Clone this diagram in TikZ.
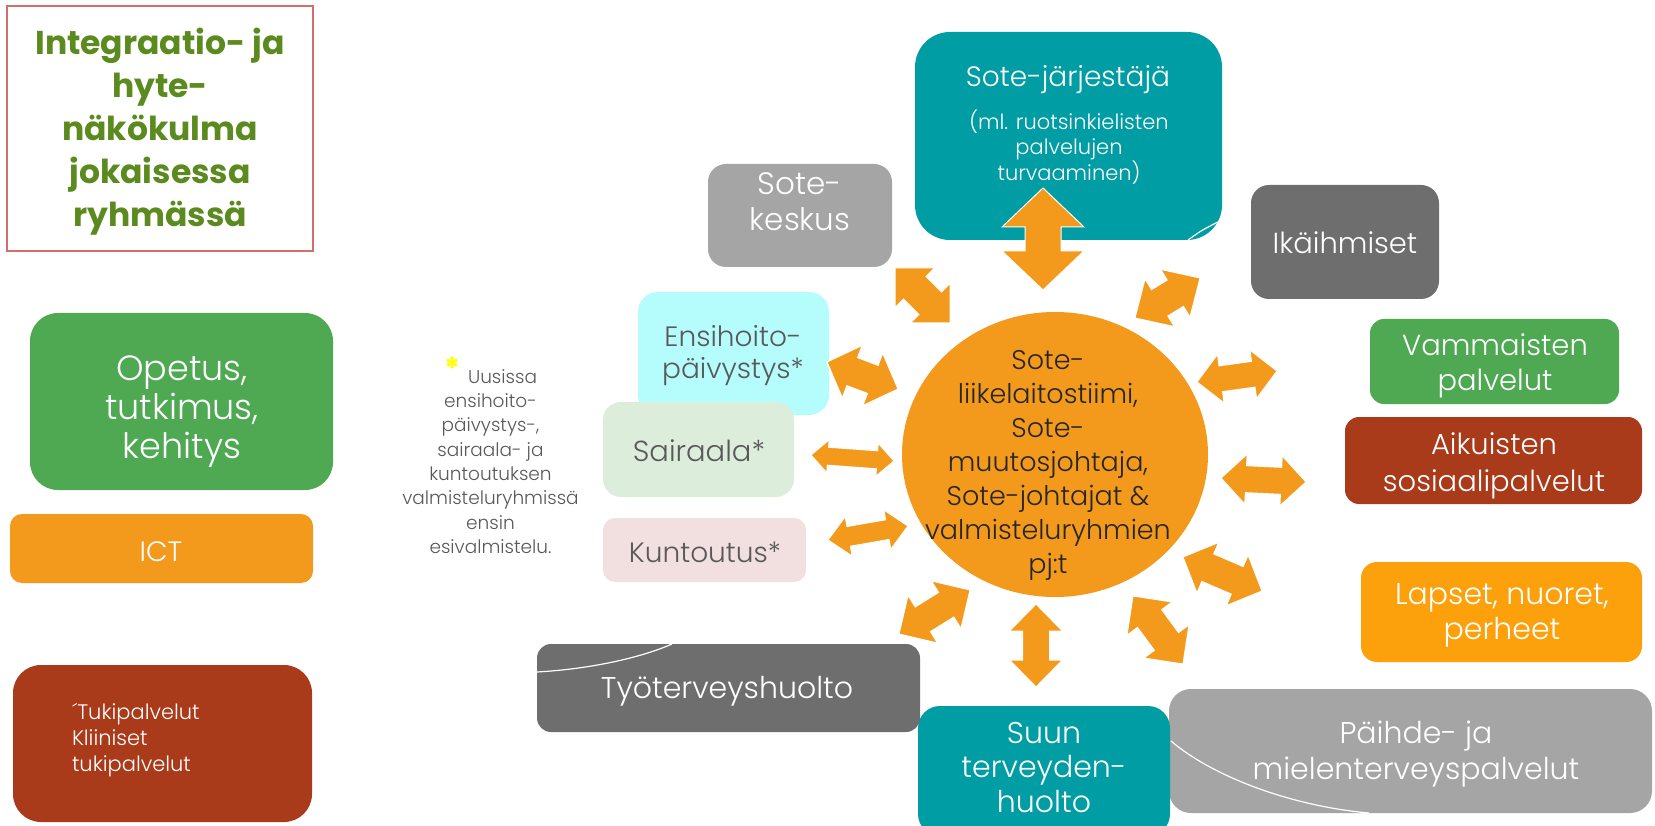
\documentclass[tikz,border=0pt]{standalone}
\usepackage{fontspec}
\setmainfont{Poppins Light}[BoldFont={Poppins Bold}]
\usetikzlibrary{calc,shapes.geometric}
\definecolor{titlegreen}{HTML}{5B8A1E}
\definecolor{titleborder}{HTML}{D36F6A}
\definecolor{boxgreen}{HTML}{4EA952}
\definecolor{orangeA}{HTML}{F39A1C}
\definecolor{orangeB}{HTML}{FCA00B}
\definecolor{rust}{HTML}{A93A1A}
\definecolor{tealbox}{HTML}{009DA4}
\definecolor{graydark}{HTML}{6E6E6E}
\definecolor{graylight}{HTML}{A5A5A5}
\definecolor{cyanlight}{HTML}{B5FCFD}
\definecolor{greenlight}{HTML}{DCEDDC}
\definecolor{pinklight}{HTML}{F2DFDF}
\definecolor{textgray}{HTML}{595959}
\definecolor{textdark}{HTML}{262626}
\definecolor{staryellow}{HTML}{FFFF00}
\tikzset{
  box/.style={inner sep=0pt, outer sep=0pt, draw=none},
  lbl/.style={inner sep=0pt, outer sep=0pt, align=center},
  blockarrow/.style={fill=orangeA, draw=white, line width=1pt, line join=miter},
  deco/.style={draw=white, line width=1.2pt},
}
% #1,#2 tips; #3 half head width; #4 head length; #5 half shaft width
\newcommand{\dblarrow}[5]{%
  \path[blockarrow] (#1) -- ($(#1)!#4!(#2)!#3!90:(#2)$) -- ($(#1)!#4!(#2)!#5!90:(#2)$)
   -- ($(#2)!#4!(#1)!#5!-90:(#1)$) -- ($(#2)!#4!(#1)!#3!-90:(#1)$) -- (#2)
   -- ($(#2)!#4!(#1)!#3!90:(#1)$) -- ($(#2)!#4!(#1)!#5!90:(#1)$)
   -- ($(#1)!#4!(#2)!#5!-90:(#2)$) -- ($(#1)!#4!(#2)!#3!-90:(#2)$) -- cycle;}
\begin{document}
\begin{tikzpicture}[x=1pt,y=-1pt]
\useasboundingbox (0,0) rectangle (1655,826);
\fill[white] (0,0) rectangle (1655,826);
% ---- boxes
\node[box, draw=titleborder, line width=2.5pt, fill=white, minimum width=306pt, minimum height=245pt] (titlebox) at (160,128.5) {};
\node[box, fill=boxgreen, minimum width=303pt, minimum height=177pt, rounded corners=28pt] (opetusbox) at (181.5,401.5) {};
\node[box, fill=orangeA, minimum width=303pt, minimum height=69pt, rounded corners=12pt] (ictbox) at (161.5,548.5) {};
\node[box, fill=rust, minimum width=299pt, minimum height=157pt, rounded corners=28pt] (tukibox) at (162.5,743.5) {};
\node[box, fill=graylight, minimum width=184pt, minimum height=103pt, rounded corners=18pt] (keskusbox) at (800,215.5) {};
\node[box, fill=cyanlight, minimum width=191pt, minimum height=123pt, rounded corners=20pt] (ensibox) at (733.5,353.5) {};
\node[box, fill=greenlight, minimum width=191pt, minimum height=95pt, rounded corners=18pt] (sairaalabox) at (698.5,449.5) {};
\node[box, fill=pinklight, minimum width=203pt, minimum height=64pt, rounded corners=12pt] (kuntobox) at (704.5,550) {};
\node[box, fill=tealbox, minimum width=307pt, minimum height=208pt, rounded corners=35pt] (jarjbox) at (1068.5,136) {};
\node[box, fill=graydark, minimum width=188pt, minimum height=114pt, rounded corners=18pt] (ikabox) at (1345,242) {};
\node[box, fill=boxgreen, minimum width=249pt, minimum height=85pt, rounded corners=14pt] (vammabox) at (1494.5,361.5) {};
\node[box, fill=rust, minimum width=297pt, minimum height=87pt, rounded corners=14pt] (aikubox) at (1493.5,460.5) {};
\node[box, fill=orangeB, minimum width=281pt, minimum height=100pt, rounded corners=16pt] (lapsetbox) at (1501.5,612) {};
\node[box, fill=graylight, minimum width=483pt, minimum height=124pt, rounded corners=22pt] (paihdebox) at (1410.5,751) {};
\node[box, fill=tealbox, minimum width=252pt, minimum height=130pt, rounded corners=22pt] (suunbox) at (1044,771) {};
\node[box, fill=graydark, minimum width=383pt, minimum height=88pt, rounded corners=14pt] (tyobox) at (728.5,688) {};
\node[box, ellipse, fill=orangeA, minimum width=306pt, minimum height=285pt] (hub) at (1055,454.5) {};
% decorative white curves
\draw[deco] (1188,240) .. controls (1202,230) .. (1222,220);
\draw[deco] (537,672) .. controls (590,669) and (640,658) .. (672,644);
\draw[deco] (1171,741) .. controls (1212,776) and (1290,806) .. (1369,813);
% ---- arrows
\coordinate (a1) at (1043,188); \coordinate (a2) at (1043,290);
\coordinate (b1) at (895,268);  \coordinate (b2) at (950,323);
\coordinate (c1) at (1200,278); \coordinate (c2) at (1135,318);
\coordinate (d1) at (827,362);  \coordinate (d2) at (898,389);
\coordinate (e1) at (811,455);  \coordinate (e2) at (894,461);
\coordinate (f1) at (828,540);  \coordinate (f2) at (908,526);
\coordinate (g1) at (1197,382); \coordinate (g2) at (1277,371);
\coordinate (h1) at (1221,478); \coordinate (h2) at (1306,482);
\coordinate (i1) at (1183,557); \coordinate (i2) at (1262,591);
\coordinate (j1) at (899,634);  \coordinate (j2) at (970,590);
\coordinate (k1) at (1036,604); \coordinate (k2) at (1036,687);
\coordinate (l1) at (1133,596); \coordinate (l2) at (1183,664);
\dblarrow{a1}{a2}{41pt}{39pt}{18pt}
\dblarrow{b1}{b2}{28pt}{28pt}{16pt}
\dblarrow{c1}{c2}{28pt}{29pt}{15.5pt}
\dblarrow{d1}{d2}{28pt}{27pt}{15pt}
\dblarrow{e1}{e2}{16.5pt}{17pt}{9pt}
\dblarrow{f1}{f2}{20pt}{21pt}{10pt}
\dblarrow{g1}{g2}{24.5pt}{24pt}{13pt}
\dblarrow{h1}{h2}{25pt}{25pt}{13.5pt}
\dblarrow{i1}{i2}{27.5pt}{27pt}{15pt}
\dblarrow{j1}{j2}{28pt}{28pt}{14.5pt}
\dblarrow{k1}{k2}{26.5pt}{27pt}{13.5pt}
\dblarrow{l1}{l2}{28pt}{28pt}{15pt}
% ---- texts
\node[lbl, text=titlegreen, font=\bfseries\fontsize{33}{43}\selectfont] (title) at (160,132) {Integraatio- ja\\hyte-\\näkökulma\\jokaisessa\\ryhmässä};
\node[lbl, text=white, font=\fontsize{35}{39}\selectfont] (opetus) at (182,411.5) {Opetus,\\tutkimus,\\kehitys};
\node[lbl, text=white, font=\fontsize{28}{34}\selectfont] (ict) at (161,552) {ICT};
\node[lbl, align=left, anchor=west, text=white, font=\fontsize{21}{26}\selectfont] (tuki) at (72,740) {´Tukipalvelut\\Kliiniset\\tukipalvelut};
\node[lbl, text=textgray, font=\fontsize{18.5}{24.3}\selectfont] (note) at (490.5,461.4) {\smash{\raisebox{4pt}{\textcolor{staryellow}{\fontsize{30}{30}\selectfont\bfseries *}}}\hspace{8pt}Uusissa\\ensihoito-\\päivystys-,\\sairaala- ja\\kuntoutuksen\\valmisteluryhmissä\\ensin\\esivalmistelu.};
\node[lbl, text=white, font=\fontsize{31}{36}\selectfont] (keskus) at (800,201.5) {Sote-\\keskus};
\node[lbl, text=textgray, font=\fontsize{28}{32}\selectfont] (ensi) at (733,356) {Ensihoito-\\päivystys*};
\node[lbl, text=textgray, font=\fontsize{29}{34}\selectfont] (sairaala) at (699,450.5) {Sairaala*};
\node[lbl, text=textgray, font=\fontsize{28}{34}\selectfont] (kunto) at (705,552) {Kuntoutus*};
\node[lbl, text=white, font=\fontsize{28}{34}\selectfont] (jarj) at (1068,79.5) {Sote-järjestäjä};
\node[lbl, text=white, font=\fontsize{21}{25}\selectfont] (jarjsub) at (1069,147) {(ml. ruotsinkielisten\\palvelujen\\turvaaminen)};
\node[lbl, text=white, font=\fontsize{29}{34}\selectfont] (ika) at (1345,242.5) {Ikäihmiset};
\node[lbl, text=white, font=\fontsize{29}{35}\selectfont] (vamma) at (1495,365.5) {Vammaisten\\palvelut};
\node[lbl, text=white, font=\fontsize{29}{37}\selectfont] (aiku) at (1494,465.5) {Aikuisten\\sosiaalipalvelut};
\node[lbl, text=white, font=\fontsize{30}{35}\selectfont] (lapset) at (1502,615) {Lapset, nuoret,\\perheet};
\node[lbl, text=white, font=\fontsize{30}{36}\selectfont] (tyo) at (727,691.5) {Työterveyshuolto};
\node[lbl, text=white, font=\fontsize{30}{34.5}\selectfont] (suun) at (1044,767.5) {Suun\\terveyden-\\huolto};
\node[lbl, text=white, font=\fontsize{30}{36}\selectfont] (paihde) at (1416,754) {Päihde- ja\\mielenterveyspalvelut};
\node[lbl, text=textdark, font=\fontsize{27}{34}\selectfont] (hubtext) at (1048,465.5) {Sote-\\liikelaitostiimi,\\Sote-\\muutosjohtaja,\\Sote-johtajat \&\\valmisteluryhmien\\pj:t};
\end{tikzpicture}
\end{document}
